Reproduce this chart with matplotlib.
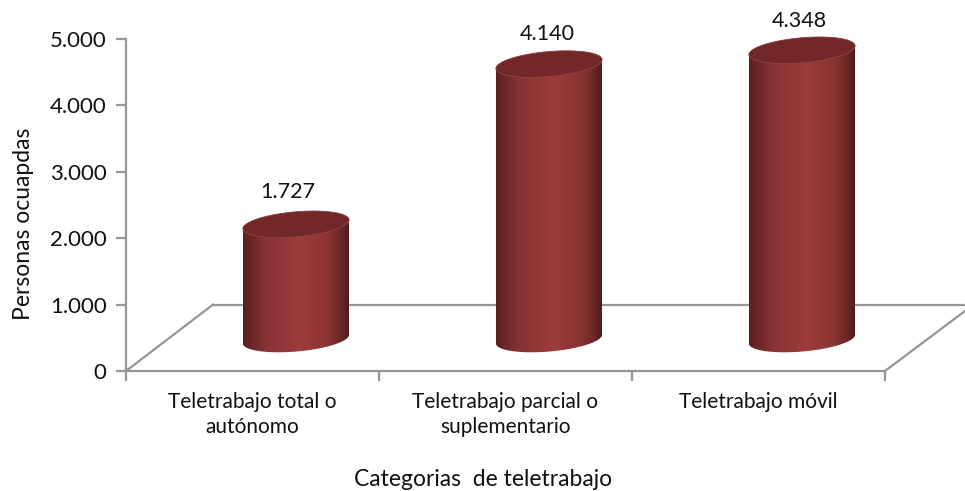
import numpy as np
import matplotlib
matplotlib.use("Agg")
import matplotlib.pyplot as plt
from matplotlib.colors import LinearSegmentedColormap
from matplotlib.patches import Polygon

categories = ["Teletrabajo total o\nautónomo", "Teletrabajo parcial o\nsuplementario", "Teletrabajo móvil"]
values = [1727, 4140, 4348]
labels = ["1.727", "4.140", "4.348"]
yticks = [0, 1000, 2000, 3000, 4000, 5000]
yticklabels = ["0", "1.000", "2.000", "3.000", "4.000", "5.000"]

W, H = 965, 491
L, R, B, T = 126, 885, 371, 39
GREY = "#969696"
plt.rcParams["font.family"] = ["Lato", "DejaVu Sans"]

fig = plt.figure(figsize=(W / 100, H / 100), dpi=100)
ax = fig.add_axes([L / W, 1 - B / H, (R - L) / W, (B - T) / H])
ax.set_xlim(0, 3)
ax.set_ylim(0, 5000)
ux = (R - L) / 3      # px per category
uy = (B - T) / 5000   # px per value unit

# floor of the 3D box
floor_kw = dict(color=GREY, lw=1.6, clip_on=False, zorder=1)
dx_depth = 87 / ux
ax.plot([0, dx_depth], [0, 1000], **floor_kw)
ax.plot([dx_depth, (965 - L) / ux], [1000, 1000], **floor_kw)
ax.plot([3, (965 - L) / ux], [0, 60 / uy], **floor_kw)

# cylinders
a, b, phi = 53.3, 12.5, np.radians(5)
cx_off, cy_off = 43.5, 32
t0 = np.arctan2(b * np.sin(phi), a * np.cos(phi))
cmap = LinearSegmentedColormap.from_list(
    "cyl", [(0, "#5a2020"), (0.22, "#873333"), (0.55, "#9e3b3b"),
            (0.8, "#8a3333"), (0.93, "#6b2727"), (1, "#4e1b1b")])
grad = np.linspace(0, 1, 256)[None, :]
label_dx = [35.5, 41.5, 40.5]
label_dy = [32, 30, 29]


def ellipse(t):
    return (a * np.cos(t) * np.cos(phi) + b * np.sin(t) * np.sin(phi),
            a * np.cos(t) * np.sin(phi) - b * np.sin(t) * np.cos(phi))


for i, v in enumerate(values):
    cx = (i + 0.5) * ux + cx_off
    arc = np.linspace(t0, t0 + np.pi, 80)
    ex, ey = ellipse(arc)
    bx = (cx + ex) / ux
    by = (cy_off + ey) / uy
    tx = bx
    ty = by + v
    # lower arc of base then the same arc raised by the value
    body = np.column_stack([np.r_[bx, tx[::-1]], np.r_[by, ty[::-1]]])
    poly = Polygon(body, closed=True, transform=ax.transData, fc="none", ec="none")
    ax.add_patch(poly)
    im = ax.imshow(grad, cmap=cmap, aspect="auto", zorder=3, clip_on=True,
                   extent=[(cx - 53) / ux, (cx + 53) / ux, 0, v + 100 / uy])
    im.set_clip_path(poly)
    fx, fy = ellipse(np.linspace(0, 2 * np.pi, 160))
    ax.add_patch(Polygon(np.column_stack([(cx + fx) / ux, (cy_off + fy) / uy + v]),
                         closed=True, fc="#722828", ec="#8a3a3a", lw=0.6, zorder=4, clip_on=False))
    ax.text(i + 0.5 + label_dx[i] / ux, v + (cy_off + label_dy[i]) / uy, labels[i], ha="center", va="center",
            fontsize=15.5, color="#111111", clip_on=False, zorder=5)

ax.set_xlim(0, 3)
ax.set_ylim(0, 5000)
ax.set_yticks(yticks, yticklabels, fontsize=16, color="#111111")
ax.set_xticks([0, 1, 2, 3], [""] * 4)
ax.tick_params(axis="y", color=GREY, width=1.6, length=7, pad=7)
ax.tick_params(axis="x", color=GREY, width=1.6, length=7)
for i, c in enumerate(categories):
    ax.annotate(c, (i + 0.5, 0), xytext=(0, -15), textcoords="offset points", ha="center",
                va="top", fontsize=15, linespacing=1.32, color="#111111", annotation_clip=False)
for s in ("top", "right"):
    ax.spines[s].set_visible(False)
for s in ("left", "bottom"):
    ax.spines[s].set_color(GREY)
    ax.spines[s].set_linewidth(1.6)
ax.patch.set_alpha(0)
fig.text(24 / W, 1 - 224 / H, "Personas ocuapdas", rotation=90, ha="center", va="center",
         fontsize=16.5, color="#111111")
fig.text(483 / W, 1 - 479.5 / H, "Categorias  de teletrabajo", ha="center", va="center",
         fontsize=16.5, color="#111111")
fig.savefig("out.png", dpi=100)
